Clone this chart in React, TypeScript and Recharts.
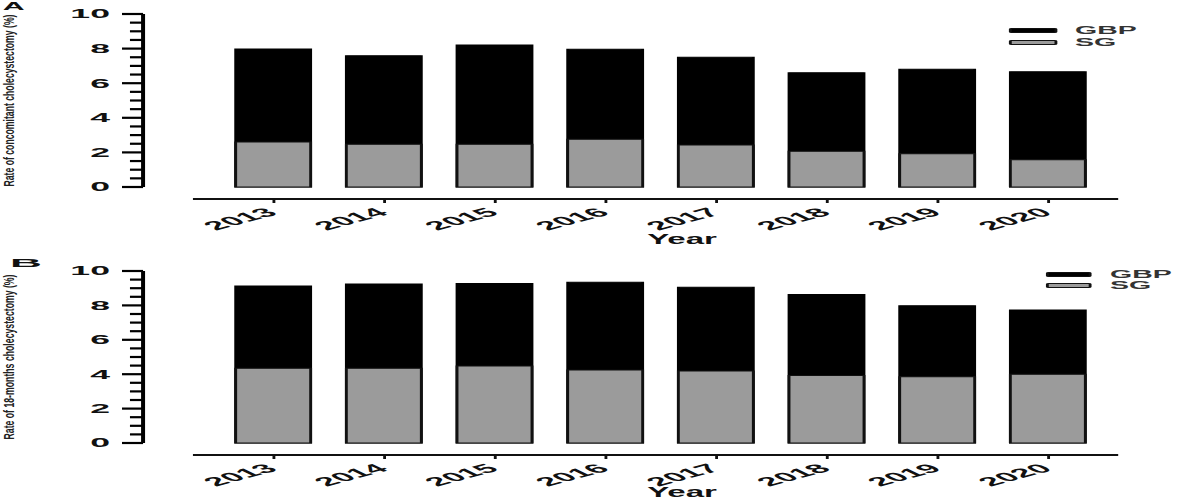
import React from 'react';
import { BarChart, Bar, XAxis, YAxis, Legend, Label } from 'recharts';

// years on the category axis
const years = ['2013', '2014', '2015', '2016', '2017', '2018', '2019', '2020'];

// panel A: rate of concomitant cholecystectomy (%)
const gbpConcomitant = [7.98, 7.59, 8.21, 7.96, 7.5, 6.61, 6.8, 6.66];
const sgConcomitant = [2.6, 2.47, 2.47, 2.76, 2.43, 2.06, 1.92, 1.58];

// panel B: rate of 18-months cholecystectomy (%)
const gbp18Months = [9.13, 9.24, 9.28, 9.34, 9.05, 8.64, 7.98, 7.73];
const sg18Months = [4.34, 4.34, 4.48, 4.24, 4.19, 3.93, 3.85, 4.0];

const yTicks = [0, 0.5, 1, 1.5, 2, 2.5, 3, 3.5, 4, 4.5, 5, 5.5, 6, 6.5, 7, 7.5, 8, 8.5, 9, 9.5, 10];

// the reference figure is squashed vertically, so draw narrow and stretch horizontally
const STRETCH = 2.85;
const CHART_WIDTH = 1200 / STRETCH;
const FONT = '"Liberation Sans", Arial, sans-serif';
const BAR_SIZE = 26.3;
const Y_TICK_SIZE = 7.4;
const Y_TICK_MARGIN = 4.2;

const YTick = (props: any) => {
  const { x, y, payload } = props;
  const axisX = x + Y_TICK_SIZE + Y_TICK_MARGIN;
  const major = payload.value % 2 === 0;
  return (
    <g>
      <line
        x1={axisX - (major ? Y_TICK_SIZE : 4.6)}
        x2={axisX}
        y1={y}
        y2={y}
        stroke="#000"
        strokeWidth={2.2}
      />
      {major && (
        <text x={x} y={y} dy={4.5} textAnchor="end" fontFamily={FONT} fontSize={12.5} fontWeight={700} fill="#111">
          {payload.value}
        </text>
      )}
    </g>
  );
};

const XTick = (props: any) => {
  const { x, y, payload } = props;
  const tx = x + 1.8;
  const ty = y + 9;
  return (
    <text
      x={tx}
      y={ty}
      textAnchor="end"
      transform={`rotate(-37, ${tx}, ${ty})`}
      fontFamily={FONT}
      fontSize={12.5}
      fontWeight={700}
      fill="#111"
    >
      {payload.value}
    </text>
  );
};

const LegendContent = ({ payload, rowHeight }: any) => (
  <div style={{ fontFamily: FONT, fontSize: 10, fontWeight: 700, color: '#333' }}>
    {(payload || []).map((entry: any) => (
      <div key={entry.value} style={{ display: 'flex', alignItems: 'center', height: rowHeight }}>
        <span
          style={{
            display: 'inline-block',
            width: 16.5,
            height: 5,
            boxSizing: 'border-box',
            background: entry.color,
            border: '1px solid #111',
            borderRadius: 1,
          }}
        />
        <span style={{ marginLeft: 6.3, lineHeight: 1 }}>{entry.value}</span>
      </div>
    ))}
  </div>
);

interface PanelProps {
  letter: string;
  letterX: number;
  letterY: number;
  letterWidth: number;
  title: string;
  titleLength: number;
  gbp: number[];
  sg: number[];
  plotTop: number;
  xAxisHeight: number;
  yearDy: number;
  legendLeft: number;
  legendTop: number;
  legendRow: number;
}

function Panel({
  letter,
  letterX,
  letterY,
  letterWidth,
  title,
  titleLength,
  gbp,
  sg,
  plotTop,
  xAxisHeight,
  yearDy,
  legendLeft,
  legendTop,
  legendRow,
}: PanelProps) {
  const data = years.map((year, i) => ({ year, gbp: gbp[i], sg: sg[i] }));

  return (
    <BarChart
      width={CHART_WIDTH}
      height={250}
      data={data}
      margin={{ top: plotTop, right: 28.7, bottom: 0, left: 0 }}
      barGap={-BAR_SIZE}
    >
      {/* spacer axes: keep the y and x axis lines offset from the bars */}
      <XAxis xAxisId="gap" dataKey="year" height={12} axisLine={false} tickLine={false} tick={false} />
      <YAxis yAxisId="gap" width={17.5} axisLine={false} tickLine={false} tick={false} domain={[0, 10]} />
      <XAxis
        xAxisId="main"
        dataKey="year"
        height={xAxisHeight}
        padding={{ left: 9, right: 5 }}
        interval={0}
        axisLine={{ stroke: '#111', strokeWidth: 2 }}
        tickLine={{ stroke: '#111', strokeWidth: 1 }}
        tickSize={4}
        tickMargin={2}
        tick={<XTick />}
      >
        <Label
          content={({ viewBox }: any) => (
            <text
              x={viewBox.x + viewBox.width / 2 + 9.3}
              y={viewBox.y + yearDy}
              textAnchor="middle"
              textLength={24.5}
              lengthAdjust="spacingAndGlyphs"
              fontFamily={FONT}
              fontSize={14}
              fontWeight={700}
              fill="#111"
            >
              Year
            </text>
          )}
        />
      </XAxis>
      <YAxis
        yAxisId="main"
        width={50.2}
        domain={[0, 10]}
        ticks={yTicks}
        interval={0}
        axisLine={{ stroke: '#000', strokeWidth: 1.4 }}
        tickLine={false}
        tickSize={Y_TICK_SIZE}
        tickMargin={Y_TICK_MARGIN}
        tick={<YTick />}
      >
        <Label
          content={({ viewBox }: any) => {
            const cy = viewBox.y + viewBox.height / 2;
            return (
              <text
                x={4.9}
                y={cy}
                textAnchor="middle"
                transform={`rotate(-90, 4.9, ${cy})`}
                textLength={titleLength}
                lengthAdjust="spacingAndGlyphs"
                fontFamily={FONT}
                fontSize={5.3}
                fontWeight={700}
                fill="#222"
              >
                {title}
              </text>
            );
          }}
        />
        <Label
          content={() => (
            <text
              x={letterX}
              y={letterY}
              textLength={letterWidth}
              lengthAdjust="spacingAndGlyphs"
              fontFamily={FONT}
              fontSize={11}
              fontWeight={700}
              fill="#111"
            >
              {letter}
            </text>
          )}
        />
      </YAxis>
      <Legend
        layout="vertical"
        align="center"
        verticalAlign="middle"
        wrapperStyle={{ left: legendLeft, top: legendTop, width: 'auto', height: 'auto' }}
        content={<LegendContent rowHeight={legendRow} />}
      />
      <Bar
        xAxisId="main"
        yAxisId="main"
        dataKey="gbp"
        name="GBP"
        fill="#000"
        stroke="#000"
        strokeWidth={1}
        barSize={BAR_SIZE}
        isAnimationActive={false}
      />
      <Bar
        xAxisId="main"
        yAxisId="main"
        dataKey="sg"
        name="SG"
        fill="#9b9b9b"
        stroke="#111"
        strokeWidth={1}
        barSize={BAR_SIZE}
        isAnimationActive={false}
      />
    </BarChart>
  );
}

export default function App() {
  return (
    <div
      style={{
        position: 'absolute',
        left: 0,
        top: 0,
        width: CHART_WIDTH,
        background: '#fff',
        transform: `scaleX(${STRETCH})`,
        transformOrigin: '0 0',
      }}
    >
      <Panel
        letter="A"
        letterX={1}
        letterY={9.5}
        letterWidth={7.7}
        title="Rate of concomitant cholecystectomy (%)"
        titleLength={172}
        gbp={gbpConcomitant}
        sg={sgConcomitant}
        plotTop={14}
        xAxisHeight={51}
        yearDy={45}
        legendLeft={354.4}
        legendTop={24.5}
        legendRow={12}
      />
      <Panel
        letter="B"
        letterX={3.5}
        letterY={17}
        letterWidth={11.2}
        title="Rate of 18-months cholecystectomy (%)"
        titleLength={165}
        gbp={gbp18Months}
        sg={sg18Months}
        plotTop={21}
        xAxisHeight={45}
        yearDy={42.5}
        legendLeft={366.7}
        legendTop={19}
        legendRow={11}
      />
    </div>
  );
}
